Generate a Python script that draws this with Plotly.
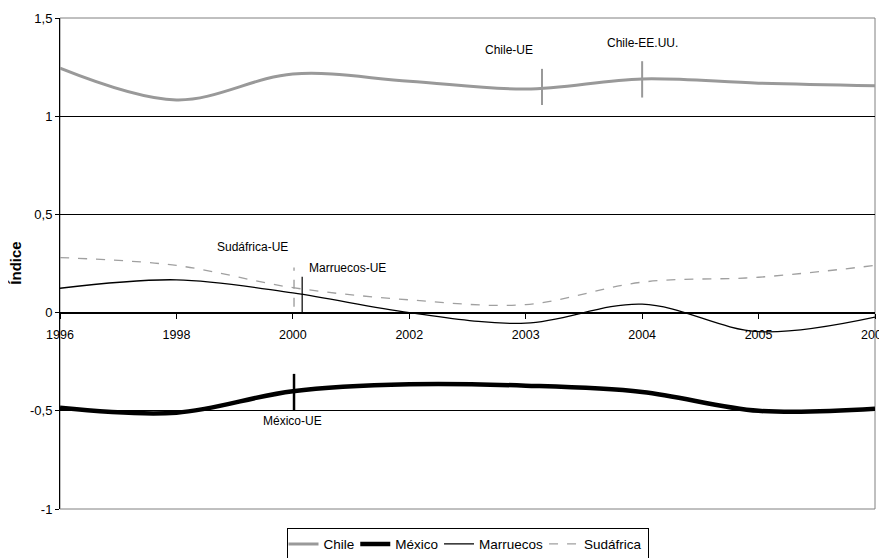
import plotly.graph_objects as go

years = ["1996", "1998", "2000", "2002", "2003", "2004", "2005", "2006"]
chile = [1.245, 1.083, 1.215, 1.178, 1.138, 1.19, 1.168, 1.155]
mexico = [-0.485, -0.51, -0.40, -0.365, -0.372, -0.404, -0.50, -0.49]
marruecos = [0.124, 0.167, 0.10, 0.0, -0.054, 0.043, -0.097, -0.023]
sudafrica = [0.28, 0.24, 0.127, 0.065, 0.041, 0.155, 0.18, 0.24]

y_ticks = [-1, -0.5, 0, 0.5, 1, 1.5]
y_ticktext = ["-1", "-0,5", "0", "0,5", "1", "1,5"]

# Trade-agreement events
event_names = ["Chile-UE", "Chile-EE.UU.", "Sudáfrica-UE", "Marruecos-UE", "México-UE"]
event_x = [4.14, 5.0, 2.01, 2.08, 2.01]
event_y0 = [1.057, 1.095, 0.03, -0.003, -0.5]
event_y1 = [1.241, 1.28, 0.23, 0.183, -0.312]
event_label_x = [3.86, 5.0, 1.65, 2.47, 2.0]
event_label_y = [1.335, 1.372, 0.336, 0.229, -0.552]
event_color = ["#999999", "#999999", "#999999", "#000000", "#000000"]
event_width = [2, 2, 1.3, 1.2, 2.5]
event_dash = ["solid", "solid", "dash", "solid", "solid"]

FONT = "Liberation Sans, Arial, sans-serif"
xs = list(range(len(years)))

fig = go.Figure()
fig.add_trace(go.Scatter(x=xs, y=chile, name="Chile", mode="lines",
                         line=dict(color="#999999", width=3, shape="spline", smoothing=1)))
fig.add_trace(go.Scatter(x=xs, y=mexico, name="México", mode="lines",
                         line=dict(color="#000000", width=4.5, shape="spline", smoothing=1)))
fig.add_trace(go.Scatter(x=xs, y=marruecos, name="Marruecos", mode="lines",
                         line=dict(color="#000000", width=1.3, shape="spline", smoothing=1)))
fig.add_trace(go.Scatter(x=xs, y=sudafrica, name="Sudáfrica", mode="lines",
                         line=dict(color="#a0a0a0", width=1.3, dash="dash", shape="spline", smoothing=1)))

shapes = [dict(type="rect", xref="paper", yref="paper", x0=0, x1=1, y0=0, y1=1,
               line=dict(color="#808080", width=1), layer="below")]
for i in range(len(event_names)):
    shapes.append(dict(type="line", xref="x", yref="y", x0=event_x[i], x1=event_x[i],
                       y0=event_y0[i], y1=event_y1[i],
                       line=dict(color=event_color[i], width=event_width[i], dash=event_dash[i])))

annotations = []
for i in range(len(event_names)):
    annotations.append(dict(x=event_label_x[i], y=event_label_y[i], xref="x", yref="y",
                            text=event_names[i], showarrow=False, xanchor="center", yanchor="middle",
                            font=dict(family=FONT, size=12, color="#000000")))
annotations.append(dict(x=-0.055, y=0.5, xref="paper", yref="paper", text="<b>Índice</b>",
                        textangle=-90, showarrow=False, xanchor="center", yanchor="middle",
                        font=dict(family=FONT, size=15, color="#000000")))

# The page body has an 8px default margin, so the figure is sized to fit inside the window.
fig.update_layout(
    width=879, height=550,
    margin=dict(l=52, r=12, t=10, b=49, autoexpand=False),
    paper_bgcolor="white", plot_bgcolor="white",
    font=dict(family=FONT, size=13, color="#000000"),
    showlegend=True,
    legend=dict(orientation="h", x=0.5, xanchor="center", y=-0.038, yanchor="top",
                bordercolor="#000000", borderwidth=1, font=dict(size=13.5),
                itemwidth=30, tracegroupgap=0, traceorder="normal",
                indentation=-4),
    xaxis=dict(range=[0, len(years) - 1], tickvals=xs, ticktext=years,
               anchor="free", position=0.4, showline=True, linecolor="#000000", linewidth=1,
               ticks="outside", ticklen=5, tickcolor="#000000", showgrid=False,
               zeroline=False, tickfont=dict(size=12.5), ticklabeloverflow="allow",
               ticklabelstandoff=5, automargin=False),
    yaxis=dict(range=[-1, 1.5], tickvals=y_ticks, ticktext=y_ticktext,
               showline=True, linecolor="#000000", linewidth=1, ticks="outside", ticklen=4,
               tickcolor="#000000", showgrid=True, gridcolor="#000000", gridwidth=1,
               zeroline=False, tickfont=dict(size=13), automargin=False),
    shapes=shapes,
    annotations=annotations,
)

fig.write_html("out.html")
